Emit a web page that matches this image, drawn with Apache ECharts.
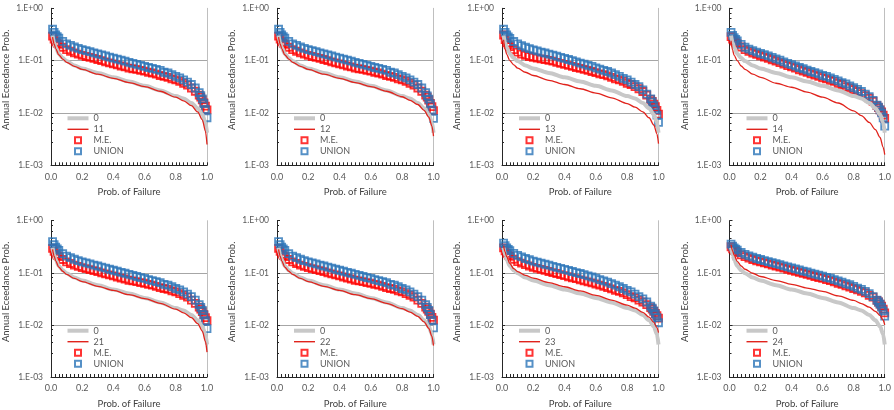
<!DOCTYPE html>
<html>
<head>
<meta charset="utf-8">
<script src="https://cdn.jsdelivr.net/npm/echarts@6/dist/echarts.min.js"></script>
<style>
  html, body { margin: 0; padding: 0; background: #fff; }
  #chart { width: 894px; height: 410px; }
</style>
</head>
<body>
<div id="chart"></div>
<script>
// x positions of the line readings and of the marker readings
const X_LINE = [0.01, 0.02, 0.03, 0.05, 0.075, 0.1, 0.15, 0.2, 0.3, 0.4, 0.5, 0.6, 0.7, 0.8, 0.85, 0.9, 0.94, 0.97, 0.99, 1.0];
const X_PTS = [0.01, 0.02, 0.03, 0.04, 0.05, 0.075, 0.1, 0.125, 0.15, 0.175, 0.2, 0.225, 0.25, 0.275, 0.3, 0.325, 0.35, 0.375, 0.4, 0.425, 0.45, 0.475, 0.5, 0.525, 0.55, 0.575, 0.6, 0.625, 0.65, 0.675, 0.7, 0.725, 0.75, 0.775, 0.8, 0.825, 0.85, 0.875, 0.9, 0.925, 0.95, 0.96, 0.97, 0.98, 0.99, 1.0];

const Y_TICK_LABELS = ['1.E+00', '1.E-01', '1.E-02', '1.E-03'];

// case "0" (same baseline in every panel)
const BASE_0 = [0.302, 0.219, 0.178, 0.135, 0.112, 0.098, 0.081, 0.071, 0.058, 0.048, 0.040, 0.033, 0.027, 0.021, 0.019, 0.0155, 0.0123, 0.0093, 0.0066, 0.0042];

// single cases
const LINE_11 = [0.282, 0.209, 0.170, 0.129, 0.107, 0.093, 0.078, 0.068, 0.055, 0.046, 0.038, 0.032, 0.026, 0.020, 0.017, 0.0138, 0.0105, 0.0074, 0.0045, 0.0025];
const LINE_12 = [0.282, 0.209, 0.170, 0.129, 0.107, 0.093, 0.078, 0.068, 0.055, 0.046, 0.038, 0.032, 0.026, 0.0204, 0.0174, 0.0145, 0.0112, 0.0083, 0.0056, 0.0036];
const LINE_13 = [0.251, 0.166, 0.132, 0.100, 0.083, 0.072, 0.060, 0.052, 0.042, 0.035, 0.029, 0.024, 0.0195, 0.0151, 0.0129, 0.0105, 0.0081, 0.0059, 0.0040, 0.0026];
const LINE_14 = [0.240, 0.158, 0.126, 0.100, 0.079, 0.068, 0.055, 0.048, 0.037, 0.031, 0.025, 0.020, 0.0155, 0.011, 0.0089, 0.0066, 0.0048, 0.0034, 0.0022, 0.0016];
const LINE_21 = [0.282, 0.209, 0.170, 0.129, 0.107, 0.093, 0.078, 0.068, 0.055, 0.046, 0.038, 0.032, 0.026, 0.020, 0.017, 0.0138, 0.0106, 0.0076, 0.0048, 0.0030];
const LINE_22 = [0.282, 0.209, 0.170, 0.129, 0.107, 0.093, 0.078, 0.068, 0.055, 0.046, 0.038, 0.032, 0.026, 0.0205, 0.0176, 0.0146, 0.0114, 0.0086, 0.0060, 0.0040];
const LINE_23 = [0.331, 0.251, 0.204, 0.151, 0.120, 0.105, 0.089, 0.079, 0.065, 0.054, 0.045, 0.037, 0.030, 0.024, 0.021, 0.0174, 0.0141, 0.0112, 0.0089, 0.0071];
const LINE_24 = [0.347, 0.263, 0.219, 0.166, 0.135, 0.117, 0.098, 0.085, 0.071, 0.060, 0.051, 0.044, 0.036, 0.0295, 0.0257, 0.0219, 0.0182, 0.0151, 0.0123, 0.0100];

// M.E. markers
const ME_11 = [0.295, 0.257, 0.229, 0.214, 0.204, 0.180, 0.162, 0.151, 0.141, 0.133, 0.126, 0.120, 0.115, 0.110, 0.105, 0.100, 0.095, 0.091, 0.087, 0.083, 0.079, 0.076, 0.072, 0.070, 0.068, 0.065, 0.063, 0.060, 0.058, 0.055, 0.052, 0.050, 0.048, 0.045, 0.043, 0.040, 0.037, 0.034, 0.030, 0.026, 0.022, 0.020, 0.0178, 0.0155, 0.0135, 0.0115];
const ME_12 = [0.295, 0.257, 0.229, 0.214, 0.204, 0.180, 0.162, 0.151, 0.141, 0.133, 0.126, 0.120, 0.115, 0.110, 0.105, 0.100, 0.095, 0.091, 0.087, 0.083, 0.079, 0.076, 0.072, 0.070, 0.068, 0.065, 0.063, 0.060, 0.058, 0.055, 0.052, 0.050, 0.048, 0.045, 0.043, 0.040, 0.037, 0.034, 0.030, 0.026, 0.022, 0.020, 0.0177, 0.0153, 0.0132, 0.0111];
const ME_13 = [0.309, 0.251, 0.219, 0.200, 0.186, 0.162, 0.145, 0.133, 0.126, 0.120, 0.116, 0.112, 0.108, 0.105, 0.101, 0.098, 0.093, 0.089, 0.085, 0.081, 0.078, 0.074, 0.071, 0.068, 0.065, 0.062, 0.059, 0.056, 0.054, 0.051, 0.048, 0.045, 0.043, 0.040, 0.037, 0.035, 0.032, 0.029, 0.0257, 0.0219, 0.0182, 0.0166, 0.0148, 0.0132, 0.0112, 0.0095];
const ME_14 = [0.288, 0.257, 0.237, 0.221, 0.209, 0.182, 0.162, 0.150, 0.140, 0.132, 0.124, 0.117, 0.111, 0.104, 0.098, 0.092, 0.086, 0.080, 0.076, 0.072, 0.067, 0.063, 0.060, 0.056, 0.053, 0.050, 0.047, 0.045, 0.042, 0.040, 0.037, 0.035, 0.032, 0.030, 0.0279, 0.0257, 0.0234, 0.0214, 0.0191, 0.0166, 0.0138, 0.0126, 0.0115, 0.0105, 0.0091, 0.0079];
const ME_21 = [0.295, 0.257, 0.229, 0.214, 0.204, 0.180, 0.162, 0.151, 0.141, 0.133, 0.126, 0.120, 0.115, 0.110, 0.105, 0.100, 0.095, 0.091, 0.087, 0.083, 0.079, 0.076, 0.072, 0.070, 0.068, 0.065, 0.063, 0.060, 0.058, 0.055, 0.052, 0.050, 0.048, 0.045, 0.043, 0.040, 0.037, 0.034, 0.030, 0.026, 0.022, 0.020, 0.0180, 0.0158, 0.0138, 0.0120];
const ME_22 = [0.295, 0.257, 0.229, 0.214, 0.204, 0.180, 0.162, 0.151, 0.141, 0.133, 0.126, 0.120, 0.115, 0.110, 0.105, 0.100, 0.095, 0.091, 0.087, 0.083, 0.079, 0.076, 0.072, 0.070, 0.068, 0.065, 0.063, 0.060, 0.058, 0.055, 0.052, 0.050, 0.048, 0.045, 0.043, 0.040, 0.037, 0.034, 0.030, 0.026, 0.022, 0.020, 0.0181, 0.0160, 0.0140, 0.0123];
const ME_23 = [0.302, 0.263, 0.237, 0.219, 0.207, 0.182, 0.164, 0.153, 0.143, 0.135, 0.127, 0.122, 0.116, 0.111, 0.106, 0.101, 0.097, 0.092, 0.088, 0.084, 0.080, 0.077, 0.073, 0.070, 0.067, 0.064, 0.061, 0.058, 0.055, 0.052, 0.049, 0.046, 0.044, 0.041, 0.038, 0.035, 0.033, 0.030, 0.0275, 0.0245, 0.0214, 0.0200, 0.0182, 0.0166, 0.0151, 0.0135];
const ME_24 = [0.316, 0.288, 0.269, 0.257, 0.245, 0.221, 0.204, 0.191, 0.180, 0.170, 0.162, 0.155, 0.148, 0.141, 0.135, 0.129, 0.123, 0.117, 0.112, 0.107, 0.102, 0.098, 0.093, 0.089, 0.085, 0.081, 0.078, 0.074, 0.071, 0.067, 0.063, 0.060, 0.056, 0.053, 0.050, 0.047, 0.044, 0.041, 0.037, 0.034, 0.0295, 0.0275, 0.0251, 0.0229, 0.0200, 0.0170];

// UNION markers
const UNION_11 = [0.398, 0.347, 0.309, 0.288, 0.269, 0.234, 0.209, 0.195, 0.182, 0.172, 0.162, 0.155, 0.148, 0.141, 0.135, 0.129, 0.123, 0.117, 0.112, 0.107, 0.102, 0.098, 0.093, 0.089, 0.085, 0.081, 0.078, 0.074, 0.071, 0.068, 0.065, 0.060, 0.058, 0.054, 0.050, 0.047, 0.043, 0.039, 0.035, 0.030, 0.0245, 0.0214, 0.0186, 0.0151, 0.0117, 0.0081];
const UNION_12 = [0.398, 0.347, 0.309, 0.288, 0.269, 0.234, 0.209, 0.195, 0.182, 0.172, 0.162, 0.155, 0.148, 0.141, 0.135, 0.129, 0.123, 0.117, 0.112, 0.107, 0.102, 0.098, 0.093, 0.089, 0.085, 0.081, 0.078, 0.074, 0.071, 0.068, 0.065, 0.060, 0.058, 0.054, 0.050, 0.047, 0.043, 0.039, 0.035, 0.030, 0.0245, 0.0213, 0.0184, 0.0149, 0.0115, 0.0079];
const UNION_13 = [0.398, 0.347, 0.309, 0.285, 0.266, 0.232, 0.209, 0.193, 0.180, 0.170, 0.160, 0.153, 0.146, 0.140, 0.133, 0.127, 0.122, 0.115, 0.110, 0.105, 0.100, 0.095, 0.090, 0.086, 0.081, 0.078, 0.073, 0.069, 0.065, 0.062, 0.058, 0.054, 0.050, 0.046, 0.043, 0.039, 0.035, 0.032, 0.0275, 0.023, 0.0186, 0.0162, 0.0138, 0.0115, 0.0091, 0.0066];
const UNION_14 = [0.347, 0.302, 0.275, 0.254, 0.237, 0.204, 0.180, 0.166, 0.155, 0.146, 0.138, 0.130, 0.123, 0.115, 0.108, 0.102, 0.095, 0.089, 0.084, 0.079, 0.074, 0.070, 0.066, 0.062, 0.059, 0.056, 0.052, 0.050, 0.047, 0.044, 0.041, 0.038, 0.036, 0.033, 0.0305, 0.0282, 0.0257, 0.0229, 0.0204, 0.0174, 0.0141, 0.0129, 0.0115, 0.0100, 0.0081, 0.0056];
const UNION_21 = [0.398, 0.347, 0.309, 0.288, 0.269, 0.234, 0.209, 0.195, 0.182, 0.172, 0.162, 0.155, 0.148, 0.141, 0.135, 0.129, 0.123, 0.117, 0.112, 0.107, 0.102, 0.098, 0.093, 0.089, 0.085, 0.081, 0.078, 0.074, 0.071, 0.068, 0.065, 0.060, 0.058, 0.054, 0.050, 0.047, 0.043, 0.039, 0.035, 0.030, 0.0245, 0.0216, 0.0189, 0.0155, 0.0121, 0.0085];
const UNION_22 = [0.398, 0.347, 0.309, 0.288, 0.269, 0.234, 0.209, 0.195, 0.182, 0.172, 0.162, 0.155, 0.148, 0.141, 0.135, 0.129, 0.123, 0.117, 0.112, 0.107, 0.102, 0.098, 0.093, 0.089, 0.085, 0.081, 0.078, 0.074, 0.071, 0.068, 0.065, 0.060, 0.058, 0.054, 0.050, 0.047, 0.043, 0.039, 0.035, 0.030, 0.0246, 0.0217, 0.0190, 0.0157, 0.0124, 0.0088];
const UNION_23 = [0.372, 0.331, 0.302, 0.282, 0.266, 0.237, 0.216, 0.202, 0.188, 0.178, 0.168, 0.160, 0.153, 0.146, 0.140, 0.133, 0.127, 0.122, 0.116, 0.111, 0.106, 0.101, 0.097, 0.092, 0.087, 0.083, 0.079, 0.074, 0.070, 0.066, 0.062, 0.058, 0.054, 0.050, 0.046, 0.043, 0.039, 0.035, 0.0316, 0.0275, 0.0229, 0.0209, 0.0186, 0.0162, 0.0138, 0.0110];
const UNION_24 = [0.355, 0.324, 0.302, 0.285, 0.272, 0.245, 0.226, 0.211, 0.200, 0.188, 0.180, 0.172, 0.164, 0.157, 0.150, 0.143, 0.136, 0.130, 0.124, 0.119, 0.114, 0.108, 0.104, 0.099, 0.094, 0.090, 0.086, 0.082, 0.079, 0.074, 0.070, 0.066, 0.062, 0.059, 0.055, 0.051, 0.048, 0.044, 0.040, 0.035, 0.030, 0.0275, 0.0251, 0.0219, 0.0186, 0.0148];

const PANELS = [
  { name: '11', line: LINE_11, me: ME_11, union: UNION_11 },
  { name: '12', line: LINE_12, me: ME_12, union: UNION_12 },
  { name: '13', line: LINE_13, me: ME_13, union: UNION_13 },
  { name: '14', line: LINE_14, me: ME_14, union: UNION_14 },
  { name: '21', line: LINE_21, me: ME_21, union: UNION_21 },
  { name: '22', line: LINE_22, me: ME_22, union: UNION_22 },
  { name: '23', line: LINE_23, me: ME_23, union: UNION_23 },
  { name: '24', line: LINE_24, me: ME_24, union: UNION_24 }
];

const COL_LEFT = [50.5, 277, 502, 729.5];
const ROW_TOP = [8.3, 220.7];
const PW = 156.5, PH = 157;
const FONT = 'Lato, "Open Sans", sans-serif';
const GREY = '#c8c8c8', RED_LINE = '#e0231c', RED = '#ff0000', BLUE = '#2a74b8';
const SQUARE = 'path://M0,0L10,0L10,10L0,10Z';
const BAR_THICK = 'path://M0,0L21,0L21,4L0,4Z';
const BAR_THIN = 'path://M0,0L21,0L21,1.4L0,1.4Z';
const pairs = (xs, ys) => xs.map((x, i) => [x, ys[i]]);

const grid = [], xAxis = [], yAxis = [], series = [], legend = [];

PANELS.forEach((p, i) => {
  const left = COL_LEFT[i % 4];
  const top = ROW_TOP[Math.floor(i / 4)];
  grid.push({ left: left, top: top, width: PW, height: PH });

  xAxis.push({
    gridIndex: i, type: 'value', min: 0, max: 1, interval: 0.2,
    name: 'Prob. of Failure', nameLocation: 'middle', nameGap: 22,
    nameTextStyle: { fontSize: 9.5, color: '#404040', fontFamily: FONT },
    axisLine: { onZero: false, lineStyle: { color: '#262626', width: 1 } },
    axisTick: { inside: true, length: 3, lineStyle: { color: '#262626' } },
    minorTick: { show: true, splitNumber: 8, length: 3, lineStyle: { color: '#262626' } },
    axisLabel: { fontSize: 9, color: '#595959', margin: 7, fontFamily: FONT, formatter: v => v.toFixed(1) },
    splitLine: { show: false }
  });

  yAxis.push({
    gridIndex: i, type: 'log', logBase: 10, min: 0.001, max: 1,
    name: 'Annual Eceedance Prob.', nameLocation: 'middle', nameGap: 40,
    nameTextStyle: { fontSize: 9.5, color: '#404040', fontFamily: FONT, padding: [0, 0, 0, 14] },
    axisLine: { show: true, lineStyle: { color: '#262626', width: 1 } },
    axisTick: { show: true, inside: true, length: 3, lineStyle: { color: '#262626' } },
    minorTick: { show: true, splitNumber: 5, length: 2, lineStyle: { color: '#262626' } },
    axisLabel: {
      fontSize: 8.5, color: '#595959', margin: 8, fontFamily: FONT,
      formatter: v => Y_TICK_LABELS[Math.round(-Math.log10(v))]
    },
    splitLine: { show: true, showMinLine: false, showMaxLine: false, lineStyle: { color: '#a6a6a6', width: 1 } }
  });
  // right edge of the plot area
  yAxis.push({
    gridIndex: i, type: 'log', logBase: 10, min: 0.001, max: 1, position: 'right',
    axisLine: { show: true, lineStyle: { color: '#bfbfbf', width: 1 } },
    axisTick: { show: false }, axisLabel: { show: false }, splitLine: { show: false }
  });

  series.push({
    type: 'line', name: '0', xAxisIndex: i, yAxisIndex: 2 * i,
    data: pairs(X_LINE, BASE_0), symbol: 'none', smooth: 0.3, smoothMonotone: 'x',
    itemStyle: { color: GREY }, lineStyle: { color: GREY, width: 4 }
  });
  series.push({
    type: 'line', name: p.name, xAxisIndex: i, yAxisIndex: 2 * i,
    data: pairs(X_LINE, p.line), symbol: 'none', smooth: 0.3, smoothMonotone: 'x',
    itemStyle: { color: RED_LINE }, lineStyle: { color: RED_LINE, width: 1.3 }
  });
  series.push({
    type: 'scatter', name: 'M.E.', xAxisIndex: i, yAxisIndex: 2 * i,
    data: pairs(X_PTS, p.me), symbol: 'rect', symbolSize: 7,
    itemStyle: { color: 'rgba(0,0,0,0)', borderColor: RED, borderWidth: 1.8 }
  });
  series.push({
    type: 'scatter', name: 'UNION', xAxisIndex: i, yAxisIndex: 2 * i,
    data: pairs(X_PTS, p.union), symbol: 'rect', symbolSize: 7,
    itemStyle: { color: 'rgba(0,0,0,0)', borderColor: BLUE, borderWidth: 1.8 }
  });

  legend.push({
    left: left + 17, top: top + 104.5, orient: 'vertical', padding: 0,
    itemWidth: 21, itemHeight: 6, itemGap: 0, selectedMode: false,
    data: [
      { name: '0', icon: BAR_THICK },
      { name: p.name, icon: BAR_THIN },
      { name: 'M.E.', icon: SQUARE },
      { name: 'UNION', icon: SQUARE }
    ],
    textStyle: { fontSize: 9, color: '#595959', fontFamily: FONT, lineHeight: 11 }
  });
});

const chart = echarts.init(document.getElementById('chart'));
chart.setOption({
  animation: false,
  backgroundColor: '#fff',
  grid: grid,
  xAxis: xAxis,
  yAxis: yAxis,
  legend: legend,
  series: series
});
window.addEventListener('resize', () => chart.resize());
</script>
</body>
</html>
